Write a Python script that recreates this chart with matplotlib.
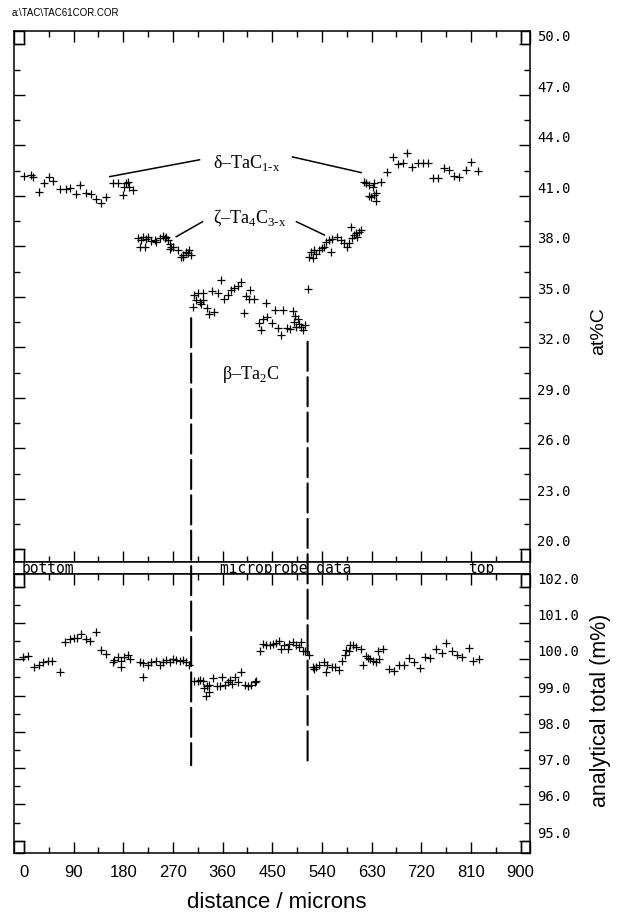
import matplotlib
matplotlib.use("Agg")
import matplotlib.pyplot as plt
from matplotlib.patches import Rectangle, ConnectionPatch

plt.rcParams['mathtext.fontset'] = 'custom'
plt.rcParams['mathtext.rm'] = 'Liberation Serif'

# --- top panel: carbon content (at%C) vs distance (microns) ---
delta_left_x = [0, 12, 16, 28, 37, 46, 52, 65, 77, 83, 95, 101, 113, 122, 131, 140,
                149, 161, 170, 179, 182, 185, 188, 191, 197]
delta_left_y = [42.2, 42.24, 42.1, 41.25, 41.75, 42.14, 41.9, 41.4, 41.4, 41.45, 41.1,
                41.65, 41.15, 41.1, 40.8, 40.6, 40.95, 41.75, 41.75, 41.05, 41.55,
                41.75, 41.85, 41.55, 41.35]

zeta_left_x = [206.5, 209.5, 212.6, 215.5, 218.6, 221.6, 224.6, 230.7, 236.7, 239.8,
               245.8, 251.7, 254.8, 257.9, 260.8, 263.9, 263.9, 266.9, 269.8, 278.9,
               285, 287.9, 288, 294, 297, 300, 303]
zeta_left_y = [38.48, 37.98, 38.38, 38.54, 37.98, 38.42, 38.57, 38.34, 38.38, 38.28,
               38.48, 38.62, 38.48, 38.57, 38.38, 38.14, 37.83, 37.98, 37.94, 37.78,
               37.39, 37.49, 37.35, 37.68, 37.59, 37.78, 37.49]

beta_x = [307, 309, 312, 315, 319, 321, 324, 325, 331, 335, 341, 345, 351, 357, 363,
          369, 375, 381, 387, 393, 399, 402, 408, 410, 417, 426, 430, 434, 439, 440,
          449, 455, 461, 466, 470, 476, 482, 488, 490, 492, 493, 496, 498, 502, 506,
          510, 514]
beta_y = [34.38, 35.11, 34.81, 35.21, 34.71, 34.58, 35.21, 34.81, 34.32, 33.98, 35.37,
          34.12, 35.21, 36.0, 34.85, 35.11, 35.41, 35.51, 35.64, 35.9, 34.06, 35.05,
          34.85, 35.41, 34.85, 33.46, 33.03, 33.67, 34.62, 33.78, 33.46, 34.22, 33.13,
          32.73, 34.22, 33.13, 33.07, 34.18, 33.52, 33.86, 33.23, 33.67, 33.39, 33.23,
          33.03, 33.33, 35.45]

zeta_right_x = [517, 520, 523, 526, 529, 535, 541, 544, 547, 553, 556, 559, 568, 574,
                580, 586, 589, 592, 595, 598, 602, 604, 608, 611]
zeta_right_y = [37.39, 37.68, 37.29, 37.78, 37.55, 37.78, 37.88, 37.98, 38.28, 38.38,
                37.68, 38.42, 38.57, 38.38, 38.18, 37.98, 38.18, 39.13, 38.48, 38.67,
                38.81, 38.54, 38.87, 38.97]

delta_right_x = [617, 620, 626, 626, 629, 632, 635, 635, 638, 638, 647, 657, 668, 677,
                 686, 695, 704, 714, 723, 732, 741, 750, 762, 771, 780, 789, 801, 810,
                 822]
delta_right_y = [41.84, 41.78, 41.65, 40.99, 40.95, 41.51, 41.75, 41.05, 41.19, 40.71,
                 41.84, 42.44, 43.29, 42.89, 42.97, 43.53, 42.73, 42.97, 42.97, 42.97,
                 42.04, 42.04, 42.64, 42.54, 42.18, 42.14, 42.54, 43.03, 42.5]

# --- bottom panel: analytical total (m%) ---
total_left_x = [-2, 7, 19, 28, 34, 43, 50, 65, 74, 83, 90, 96, 104, 112, 119, 131, 140,
                149, 161, 164, 170, 176, 176, 182, 188, 193, 210, 215, 216, 225, 230,
                240, 246, 252, 258, 264, 270, 276, 282, 288, 294, 300]
total_left_y = [100.05, 100.1, 99.8, 99.85, 99.92, 99.95, 99.95, 99.65, 100.47, 100.56,
                100.6, 100.6, 100.7, 100.56, 100.51, 100.74, 100.26, 100.15, 99.92,
                99.98, 100.05, 99.96, 99.8, 100.07, 100.13, 100.0, 99.92, 99.89, 99.52,
                99.85, 99.92, 99.95, 99.85, 99.92, 99.98, 99.92, 100.01, 99.98, 99.95,
                99.98, 99.92, 99.83]

total_beta_x = [309, 315, 319, 325, 327, 330, 331, 335, 336, 342, 350, 356, 358, 364,
                370, 373, 377, 382, 388, 394, 400, 406, 412, 418, 421]
total_beta_y = [99.41, 99.4, 99.43, 99.41, 99.21, 99.0, 99.25, 99.3, 99.09, 99.49,
                99.25, 99.25, 99.5, 99.28, 99.37, 99.43, 99.32, 99.5, 99.37, 99.64,
                99.3, 99.25, 99.28, 99.37, 99.4]

total_mid_x = [427, 433, 439, 445, 451, 457, 463, 466, 472, 478, 481, 487, 493, 499,
               502, 505, 510, 516]
total_mid_y = [100.24, 100.42, 100.38, 100.4, 100.42, 100.44, 100.49, 100.28, 100.38,
               100.28, 100.42, 100.47, 100.38, 100.33, 100.47, 100.22, 100.24, 100.13]

total_right_x = [523, 526, 530, 535, 543, 548, 550, 558, 564, 570, 577, 581, 584, 589,
                 590, 596, 602, 611, 614, 619, 623, 627, 632, 638, 641, 644, 651, 661,
                 671, 679, 688, 697, 707, 718, 726, 736, 747, 758, 765, 776, 784, 794,
                 806, 814, 825]
total_right_y = [99.78, 99.74, 99.8, 99.83, 99.92, 99.64, 99.85, 99.8, 99.78, 99.71,
                 99.95, 100.13, 100.26, 100.23, 100.4, 100.38, 100.33, 100.28, 99.83,
                 100.1, 100.04, 100.01, 99.96, 99.92, 100.22, 100.01, 100.28, 99.74,
                 99.68, 99.83, 99.83, 100.04, 99.92, 99.76, 100.07, 100.04, 100.28,
                 100.16, 100.44, 100.22, 100.13, 100.07, 100.31, 99.96, 100.01]

# phase boundaries (dashed lines)
boundary_x = [303, 514]
boundary_top = [33.73, 32.33]
boundary_bottom = [97.08, 97.08]

x_ticks = list(range(0, 901, 90))
top_ticks = [20, 23, 26, 29, 32, 35, 38, 41, 44, 47, 50]
bottom_ticks = [95, 96, 97, 98, 99, 100, 101, 102]

W, H = 622, 915
fig = plt.figure(figsize=(W / 100, H / 100), dpi=100)
left, width = 14 / W, 516 / W
ax1 = fig.add_axes([left, 1 - 561.7 / H, width, 531 / H])
strip = fig.add_axes([left, 1 - 574 / H, width, 12.3 / H])
ax2 = fig.add_axes([left, 1 - 852.7 / H, width, 278.7 / H])

XLIM = (-18, 917)
mono = 'DejaVu Sans Mono'
sans = ['Liberation Sans', 'DejaVu Sans']
mk = dict(ls='none', marker='+', ms=6, mew=0.9, color='black')

for xs, ys in [(delta_left_x, delta_left_y), (zeta_left_x, zeta_left_y), (beta_x, beta_y),
               (zeta_right_x, zeta_right_y), (delta_right_x, delta_right_y)]:
    ax1.plot(xs, ys, **mk)
for xs, ys in [(total_left_x, total_left_y), (total_beta_x, total_beta_y),
               (total_mid_x, total_mid_y), (total_right_x, total_right_y)]:
    ax2.plot(xs, ys, **mk)


def style_axis(ax, yticks, ylim, minor_step):
    ax.set_xlim(*XLIM)
    ax.set_ylim(*ylim)
    ax.set_xticks(x_ticks)
    ax.set_xticks([t + 45 for t in x_ticks[:-1]], minor=True)
    ax.set_yticks(yticks)
    ax.set_yticks([t + minor_step for t in yticks[:-1]], minor=True)
    ax.tick_params(which='both', direction='in', top=True, bottom=True, left=True,
                   right=True, labelleft=False, labelright=True, labelbottom=False,
                   width=1.0, color='black')
    ax.tick_params(which='major', length=8)
    ax.tick_params(which='minor', length=4)
    ax.tick_params(axis='y', labelsize=10, pad=5)
    ax.set_yticklabels(['%.1f' % t for t in yticks], family=mono, va='bottom')
    for s in ax.spines.values():
        s.set_linewidth(1.1)
    # little corner boxes
    y0, y1 = ylim
    for (xa, xb) in [(XLIM[0], 0), (900, XLIM[1])]:
        for (ya, yb) in [(y0, yticks[0]), (yticks[-1], y1)]:
            ax.add_patch(Rectangle((xa, ya), xb - xa, yb - ya, fill=False,
                                   lw=1.0, ec='black', clip_on=False))


style_axis(ax1, top_ticks, (19.26, 50.81), 1.5)
style_axis(ax2, bottom_ticks, (94.67, 102.35), 0.5)
ax2.tick_params(labelbottom=True)
ax2.set_xticklabels([str(t) for t in x_ticks], fontsize=12, family=sans)
ax2.tick_params(axis='x', pad=9)

ax1.set_ylabel('at%C', fontsize=14, family=sans)
ax1.yaxis.set_label_position('right')
ax1.yaxis.set_label_coords(1.117, 0.435)
ax2.set_ylabel('analytical total (m%)', fontsize=15.5, family=sans)
ax2.yaxis.set_label_position('right')
ax2.yaxis.set_label_coords(1.117, 0.51)
fig.text(277 / W, 1 - 903 / H, 'distance / microns', fontsize=16, ha='center',
         va='center', family=sans)

# separator strip
strip.set_xlim(*XLIM)
strip.set_ylim(0, 1)
strip.set_xticks([])
strip.set_yticks([])
for s in strip.spines.values():
    s.set_linewidth(1.1)
strip.text(-4, 0.42, 'bottom', family=mono, fontsize=10.5, va='center')
strip.text(474, 0.42, 'microprobe data', family=mono, fontsize=10.5, va='center',
           ha='center')
strip.text(829, 0.42, 'top', family=mono, fontsize=10.5, va='center', ha='center')

fig.text(12 / W, 1 - 13 / H, 'a:\\TAC\\TAC61COR.COR', fontsize=7, family=sans,
         va='center')

# phase labels and leader lines
serif = 'Liberation Serif'
ax1.text(341.7, 42.95, 'δ–TaC$_{\\mathrm{1‐x}}$', fontsize=13, family=serif, va='center')
ax1.text(341.7, 39.69, 'ζ–Ta$_{\\mathrm{4}}$C$_{\\mathrm{3‐x}}$', fontsize=13, family=serif,
         va='center')
ax1.text(359.8, 30.36, 'β–Ta$_{\\mathrm{2}}$C', fontsize=13, family=serif, va='center')
leaders = [((155.4, 42.14), (318.2, 43.14)), ((486.6, 43.31), (611, 42.38)),
           ((276, 38.57), (323.6, 39.46)), ((493.8, 39.46), (544.5, 38.67))]
for (xa, ya), (xb, yb) in leaders:
    ax1.plot([xa, xb], [ya, yb], color='black', lw=1.1)

for bx, bt, bb in zip(boundary_x, boundary_top, boundary_bottom):
    con = ConnectionPatch(xyA=(bx, bt), coordsA=ax1.transData, xyB=(bx, bb),
                          coordsB=ax2.transData, color='black', lw=1.5,
                          linestyle=(0, (14, 3)))
    fig.add_artist(con)

fig.savefig('out.png', dpi=100)
